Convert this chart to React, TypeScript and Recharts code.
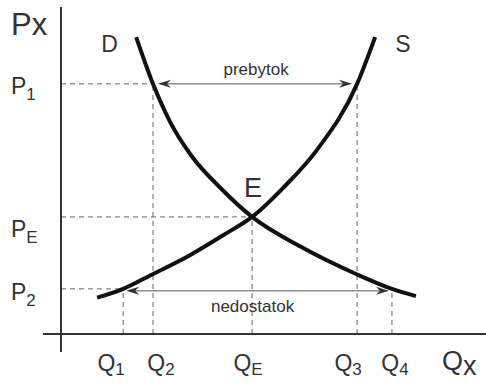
import React from 'react';
import { ComposedChart, Line, XAxis, YAxis, ReferenceLine, ReferenceDot } from 'recharts';

// Demand curve D: quantity and price readings
const demandQ = [17.9, 21.9, 26.0, 31.0, 38.1, 45.5, 56.9, 70.5, 78.8, 84.5];
const demandP = [90.8, 76.5, 64.8, 54.6, 44.5, 35.8, 26.8, 18.2, 13.8, 11.6];

// Supply curve S: quantity and price readings
const supplyQ = [8.6, 14.8, 21.7, 30.7, 38.6, 45.5, 52.9, 61.0, 70.5, 74.8];
const supplyP = [11.1, 13.8, 18.2, 24.1, 30.2, 35.8, 44.7, 56.4, 76.5, 90.8];

// Marked quantity levels on the Qx axis and their subscripts
const qLevels = [14.8, 21.9, 45.5, 70.5, 78.8];
const qSubs = ['1', '2', 'E', '3', '4'];

// Marked price levels on the Px axis and their subscripts
const pLevels = [76.5, 35.8, 13.8];
const pSubs = ['1', 'E', '2'];

const [Q1, Q2, QE, Q3, Q4] = qLevels;
const [P1, PE, P2] = pLevels;

const demandData = demandQ.map((q, i) => ({ q, p: demandP[i] }));
const supplyData = supplyQ.map((q, i) => ({ q, p: supplyP[i] }));

const FONT = '"Liberation Sans", Arial, Helvetica, sans-serif';
const INK = '#333';
const GUIDE = '#666';

// label placement tweaks (px)
const qLabelShift = [-12, 8, -4, -9, 3];
const pLabelDrop = [10, 20, 11];

const QTick = (props: any) => {
  const { x, y, payload } = props;
  const i = qLevels.indexOf(payload.value);
  if (i < 0) return null;
  return (
    <text x={x + qLabelShift[i]} y={y + 37} textAnchor="middle" fontFamily={FONT} fontSize={23} fill={INK}>
      Q<tspan dy={4} fontSize={17}>{qSubs[i]}</tspan>
    </text>
  );
};

const PTick = (props: any) => {
  const { x, y, payload } = props;
  const i = pLevels.indexOf(payload.value);
  if (i < 0) return null;
  return (
    <text x={x - 50} y={y + pLabelDrop[i]} textAnchor="start" fontFamily={FONT} fontSize={23} fill={INK}>
      P<tspan dy={6} fontSize={17}>{pSubs[i]}</tspan>
    </text>
  );
};

// double-headed arrow drawn between two segment ends
const arrowShape = (label: string, inset: number, dropLine: number, textDy: number, textDx: number) => (props: any) => {
  const { x1, y1, x2 } = props;
  if (x1 == null) return null;
  const y = y1 + dropLine;
  const a = Math.min(x1, x2) + inset;
  const b = Math.max(x1, x2) - inset;
  const len = 13;
  const half = 4;
  const notch = 9;
  const headL = `M${a},${y} L${a + len},${y - half} L${a + notch},${y} L${a + len},${y + half} Z`;
  const headR = `M${b},${y} L${b - len},${y - half} L${b - notch},${y} L${b - len},${y + half} Z`;
  return (
    <g>
      <line x1={a + 4} y1={y} x2={b - 4} y2={y} stroke="#555" strokeWidth={1} />
      <path d={headL} fill="#333" />
      <path d={headR} fill="#333" />
      <text x={(a + b) / 2 + textDx} y={y + textDy} textAnchor="middle" fontFamily={FONT} fontSize={17} fill={INK}>
        {label}
      </text>
    </g>
  );
};

const textAt = (content: React.ReactNode, dx: number, dy: number, size: number) => (props: any) => {
  const { cx, cy } = props;
  if (cx == null) return null;
  return (
    <text x={cx + dx} y={cy + dy} fontFamily={FONT} fontSize={size} fill={INK}>
      {content}
    </text>
  );
};

const dashed = { stroke: GUIDE, strokeWidth: 1, strokeDasharray: '5 4' };

export default function App() {
  return (
    <div style={{ position: 'absolute', left: 0, top: 0, width: 486, height: 383, background: '#fff' }}>
      <ComposedChart width={486} height={383} margin={{ top: 7, right: 5, bottom: 0, left: 0 }}>
        <XAxis
          type="number"
          dataKey="q"
          domain={[0, 100]}
          allowDataOverflow
          ticks={qLevels}
          interval={0}
          axisLine={false}
          tickLine={false}
          tickSize={0}
          tickMargin={0}
          height={49}
          tick={<QTick />}
        />
        <YAxis
          type="number"
          dataKey="p"
          domain={[0, 100]}
          allowDataOverflow
          ticks={pLevels}
          interval={0}
          axisLine={false}
          tickLine={false}
          tickSize={0}
          tickMargin={0}
          width={61}
          tick={<PTick />}
        />

        {/* guide lines to the marked levels */}
        <ReferenceLine segment={[{ x: 0, y: P1 }, { x: Q2, y: P1 }]} {...dashed} ifOverflow="visible" />
        <ReferenceLine segment={[{ x: 0, y: PE }, { x: QE, y: PE }]} {...dashed} ifOverflow="visible" />
        <ReferenceLine segment={[{ x: 0, y: P2 }, { x: Q1, y: P2 }]} {...dashed} ifOverflow="visible" />
        <ReferenceLine segment={[{ x: Q1, y: 0 }, { x: Q1, y: P2 }]} {...dashed} ifOverflow="visible" />
        <ReferenceLine segment={[{ x: Q2, y: 0 }, { x: Q2, y: P1 }]} {...dashed} ifOverflow="visible" />
        <ReferenceLine segment={[{ x: QE, y: 0 }, { x: QE, y: PE }]} {...dashed} ifOverflow="visible" />
        <ReferenceLine segment={[{ x: Q3, y: 0 }, { x: Q3, y: P1 }]} {...dashed} ifOverflow="visible" />
        <ReferenceLine segment={[{ x: Q4, y: 0 }, { x: Q4, y: P2 }]} {...dashed} ifOverflow="visible" />

        {/* surplus and shortage spans */}
        <ReferenceLine
          segment={[{ x: Q2, y: P1 }, { x: Q3, y: P1 }]}
          ifOverflow="visible"
          shape={arrowShape('prebytok', 5, 0, -9, 1)}
        />
        <ReferenceLine
          segment={[{ x: Q1, y: P2 }, { x: Q4, y: P2 }]}
          ifOverflow="visible"
          shape={arrowShape('nedostatok', 3, 2, 21, -5)}
        />

        {/* axes */}
        <ReferenceLine segment={[{ x: -4.3, y: 0 }, { x: 101.2, y: 0 }]} stroke={INK} strokeWidth={2} ifOverflow="visible" />
        <ReferenceLine segment={[{ x: 0, y: 100 }, { x: 0, y: -5.5 }]} stroke={INK} strokeWidth={2} ifOverflow="visible" />

        <Line data={demandData} dataKey="p" type="monotone" stroke="#111" strokeWidth={4} dot={false} isAnimationActive={false} />
        <Line data={supplyData} dataKey="p" type="monotone" stroke="#111" strokeWidth={4} dot={false} isAnimationActive={false} />

        {/* curve and axis names */}
        <ReferenceDot x={demandQ[0]} y={demandP[0]} ifOverflow="visible" shape={textAt('D', -35, 15, 23)} />
        <ReferenceDot x={supplyQ[supplyQ.length - 1]} y={supplyP[supplyP.length - 1]} ifOverflow="visible" shape={textAt('S', 20, 15, 23)} />
        <ReferenceDot x={QE} y={PE} ifOverflow="visible" shape={textAt('E', -8, -20, 27)} />
        <ReferenceDot x={0} y={100} ifOverflow="visible" shape={textAt('Px', -50, 28, 31)} />
        <ReferenceDot
          x={100}
          y={0}
          ifOverflow="visible"
          shape={textAt(<>Q<tspan dy={5}>x</tspan></>, -39, 36, 27)}
        />
      </ComposedChart>
    </div>
  );
}
